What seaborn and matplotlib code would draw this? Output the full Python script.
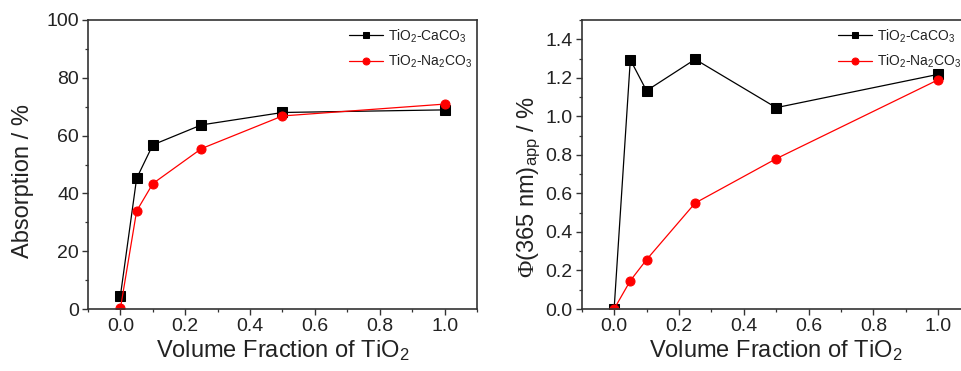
import matplotlib
matplotlib.use("Agg")
import matplotlib.pyplot as plt
from matplotlib.ticker import MultipleLocator, FormatStrFormatter
import seaborn as sns
import pandas as pd

# Volume fraction of TiO2 in the mixtures
fraction = [0.0, 0.05, 0.1, 0.25, 0.5, 1.0]

# Absorption (%)
absorption_caco3 = [4.6, 45.2, 56.8, 63.7, 68.0, 68.9]
absorption_na2co3 = [0.2, 33.9, 43.4, 55.5, 66.8, 70.9]

# Apparent quantum yield at 365 nm (%)
phi_caco3 = [0.0, 1.294, 1.133, 1.296, 1.045, 1.218]
phi_na2co3 = [0.0, 0.147, 0.256, 0.550, 0.780, 1.190]

series_labels = [r"TiO$_{\mathregular{2}}$-CaCO$_{\mathregular{3}}$",
                 r"TiO$_{\mathregular{2}}$-Na$_{\mathregular{2}}$CO$_{\mathregular{3}}$"]

sns.set_theme(style="ticks")
plt.rcParams["font.family"] = ["Liberation Sans", "DejaVu Sans"]
plt.rcParams["mathtext.fontset"] = "custom"
plt.rcParams["mathtext.rm"] = "Liberation Sans"
plt.rcParams["mathtext.it"] = "Liberation Sans:italic"
plt.rcParams["mathtext.sf"] = "Liberation Serif"

TEXT = "#222222"
SPINE = "#333333"

fig = plt.figure(figsize=(9.62, 3.71), dpi=100)
W, H = 962.0, 371.0
ax1 = fig.add_axes([88 / W, 62 / H, 389 / W, 289 / H])
ax2 = fig.add_axes([581.7 / W, 62 / H, 389 / W, 289 / H])


def draw(ax, y_black, y_red):
    df_black = pd.DataFrame({"x": fraction, "y": y_black})
    df_red = pd.DataFrame({"x": fraction, "y": y_red})
    sns.lineplot(data=df_black, x="x", y="y", ax=ax, color="black", lw=0.9,
                 marker="s", markersize=6.5, markeredgecolor="black",
                 label=series_labels[0], sort=False)
    sns.lineplot(data=df_red, x="x", y="y", ax=ax, color="#ff0000", lw=0.9,
                 marker="o", markersize=6.5, markeredgecolor="#ff0000",
                 label=series_labels[1], sort=False)


draw(ax1, absorption_caco3, absorption_na2co3)
draw(ax2, phi_caco3, phi_na2co3)

ax1.set_xlim(-0.1, 1.1)
ax1.set_ylim(0, 100)
ax1.yaxis.set_major_locator(MultipleLocator(20))
ax1.yaxis.set_minor_locator(MultipleLocator(10))

ax2.set_xlim(-0.1, 1.1)
ax2.set_ylim(0, 1.5)
ax2.yaxis.set_major_locator(MultipleLocator(0.2))
ax2.yaxis.set_minor_locator(MultipleLocator(0.1))
ax2.yaxis.set_major_formatter(FormatStrFormatter("%.1f"))

for ax, lx in ((ax1, 0.671), (ax2, 0.658)):
    ax.xaxis.set_major_locator(MultipleLocator(0.2))
    ax.xaxis.set_minor_locator(MultipleLocator(0.1))
    ax.xaxis.set_major_formatter(FormatStrFormatter("%.1f"))
    ax.tick_params(which="major", direction="out", length=4.0, width=1.0,
                   color=SPINE, labelsize=14, labelcolor=TEXT, pad=2.5)
    ax.tick_params(which="minor", direction="out", length=2.2, width=0.9, color=SPINE)
    ax.tick_params(top=False, right=False, which="both")
    for s in ax.spines.values():
        s.set_color(SPINE)
        s.set_linewidth(1.2)
    ax.set_xlabel("Volume Fraction of TiO$_{\\mathregular{2}}$", fontsize=17,
                  color=TEXT)
    ax.xaxis.set_label_coords(0.5, -0.099)
    ax.grid(False)
    leg = ax.legend(loc="upper left", bbox_to_anchor=(lx, 0.975), frameon=False,
                    fontsize=10, borderpad=0, borderaxespad=0, handlelength=2.45,
                    handletextpad=0.35, labelspacing=0.6, labelcolor=TEXT)
    for h in leg.legend_handles:
        h.set_markersize(5)

ax1.set_ylabel("Absorption / %", fontsize=17, color=TEXT)
ax1.yaxis.set_label_coords(-0.138, 0.443)
ax2.set_ylabel(r"$\mathsf{\Phi}$(365 nm)$_{\mathregular{app}}$ / %",
               fontsize=17, color=TEXT)
ax2.yaxis.set_label_coords(-0.100, 0.424)

fig.savefig("out.png", dpi=100, facecolor="white")
